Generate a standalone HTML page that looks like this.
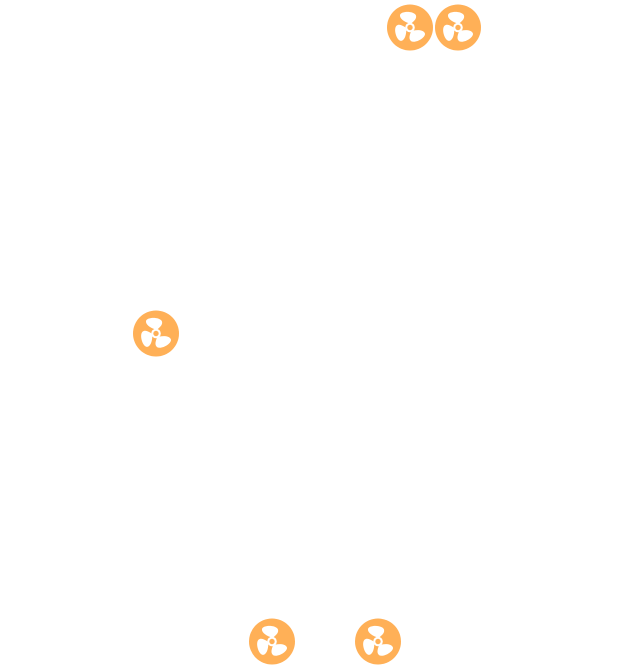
<!DOCTYPE html>
<html>
<head>
<meta charset="utf-8">
<style>
html,body{margin:0;padding:0;background:#ffffff;width:617px;height:668px;overflow:hidden;}
svg{display:block;}
</style>
</head>
<body>
<svg width="617" height="668" viewBox="0 0 617 668" xmlns="http://www.w3.org/2000/svg">
<defs>
<g id="fan">
<circle cx="0" cy="0" r="23" fill="#FFB057"/>
<g fill="#ffffff">
<path id="blade" d="M -1.8,-4.5 C -6,-6 -10.5,-9 -10,-12.5 C -9,-16.5 3,-16.8 5.8,-12.5 C 7.2,-9 4,-6.5 1.8,-4.5 Z"/>
<use href="#blade" transform="rotate(150)"/>
<use href="#blade" transform="rotate(252)"/>
</g>
<circle cx="0" cy="0" r="4.8" fill="#ffffff"/>
<circle cx="0" cy="0" r="2.7" fill="#FFB057"/>
</g>
</defs>
<use href="#fan" transform="translate(410,27.5)"/>
<use href="#fan" transform="translate(458,27.5)"/>
<use href="#fan" transform="translate(156,333.5)"/>
<use href="#fan" transform="translate(272,641.5)"/>
<use href="#fan" transform="translate(378,641.5)"/>
</svg>
</body>
</html>
